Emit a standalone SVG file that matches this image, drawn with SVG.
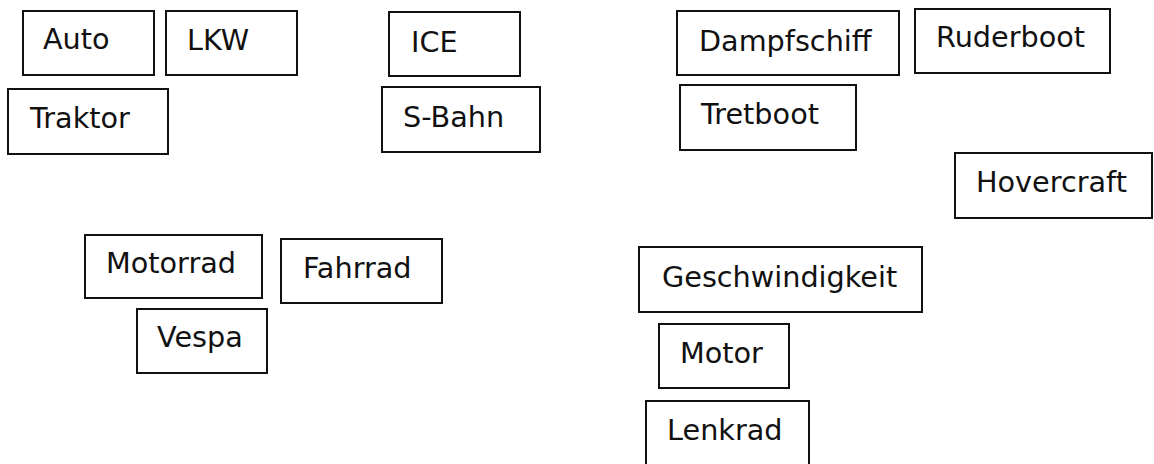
<svg xmlns="http://www.w3.org/2000/svg" width="1154" height="464" viewBox="0 0 1154 464">
<style>
  .box { fill: #ffffff; stroke: #111111; stroke-width: 2; }
  .lbl { font-family: "DejaVu Sans", Verdana, sans-serif; font-size: 28.7px; fill: #111111; }
</style>
<rect x="0" y="0" width="1154" height="464" fill="#ffffff"/>
<g id="connectors"></g>
<g id="auto"><rect class="box" x="23" y="11" width="131" height="64"/><text class="lbl" x="43" y="49">Auto</text></g>
<g id="lkw"><rect class="box" x="166" y="11" width="131" height="64"/><text class="lbl" x="187" y="50">LKW</text></g>
<g id="traktor"><rect class="box" x="8" y="89" width="160" height="65"/><text class="lbl" x="30" y="128">Traktor</text></g>
<g id="ice"><rect class="box" x="389" y="12" width="131" height="64"/><text class="lbl" x="411" y="52">ICE</text></g>
<g id="sbahn"><rect class="box" x="382" y="87" width="158" height="65"/><text class="lbl" x="403" y="127">S-Bahn</text></g>
<g id="dampfschiff"><rect class="box" x="677" y="11" width="222" height="64"/><text class="lbl" x="699" y="51">Dampfschiff</text></g>
<g id="ruderboot"><rect class="box" x="915" y="9" width="195" height="64"/><text class="lbl" x="936" y="47">Ruderboot</text></g>
<g id="tretboot"><rect class="box" x="680" y="85" width="176" height="65"/><text class="lbl" x="701" y="124">Tretboot</text></g>
<g id="hovercraft"><rect class="box" x="955" y="153" width="197" height="65"/><text class="lbl" x="976" y="192">Hovercraft</text></g>
<g id="motorrad"><rect class="box" x="85" y="235" width="177" height="63"/><text class="lbl" x="106" y="273">Motorrad</text></g>
<g id="fahrrad"><rect class="box" x="281" y="239" width="161" height="64"/><text class="lbl" x="303" y="278">Fahrrad</text></g>
<g id="vespa"><rect class="box" x="137" y="309" width="130" height="64"/><text class="lbl" x="157" y="347">Vespa</text></g>
<g id="geschwindigkeit"><rect class="box" x="639" y="247" width="283" height="65"/><text class="lbl" x="662" y="287">Geschwindigkeit</text></g>
<g id="motor"><rect class="box" x="659" y="324" width="130" height="64"/><text class="lbl" x="680" y="363">Motor</text></g>
<g id="lenkrad"><rect class="box" x="646" y="401" width="163" height="70"/><text class="lbl" x="667" y="440">Lenkrad</text></g>
</svg>
